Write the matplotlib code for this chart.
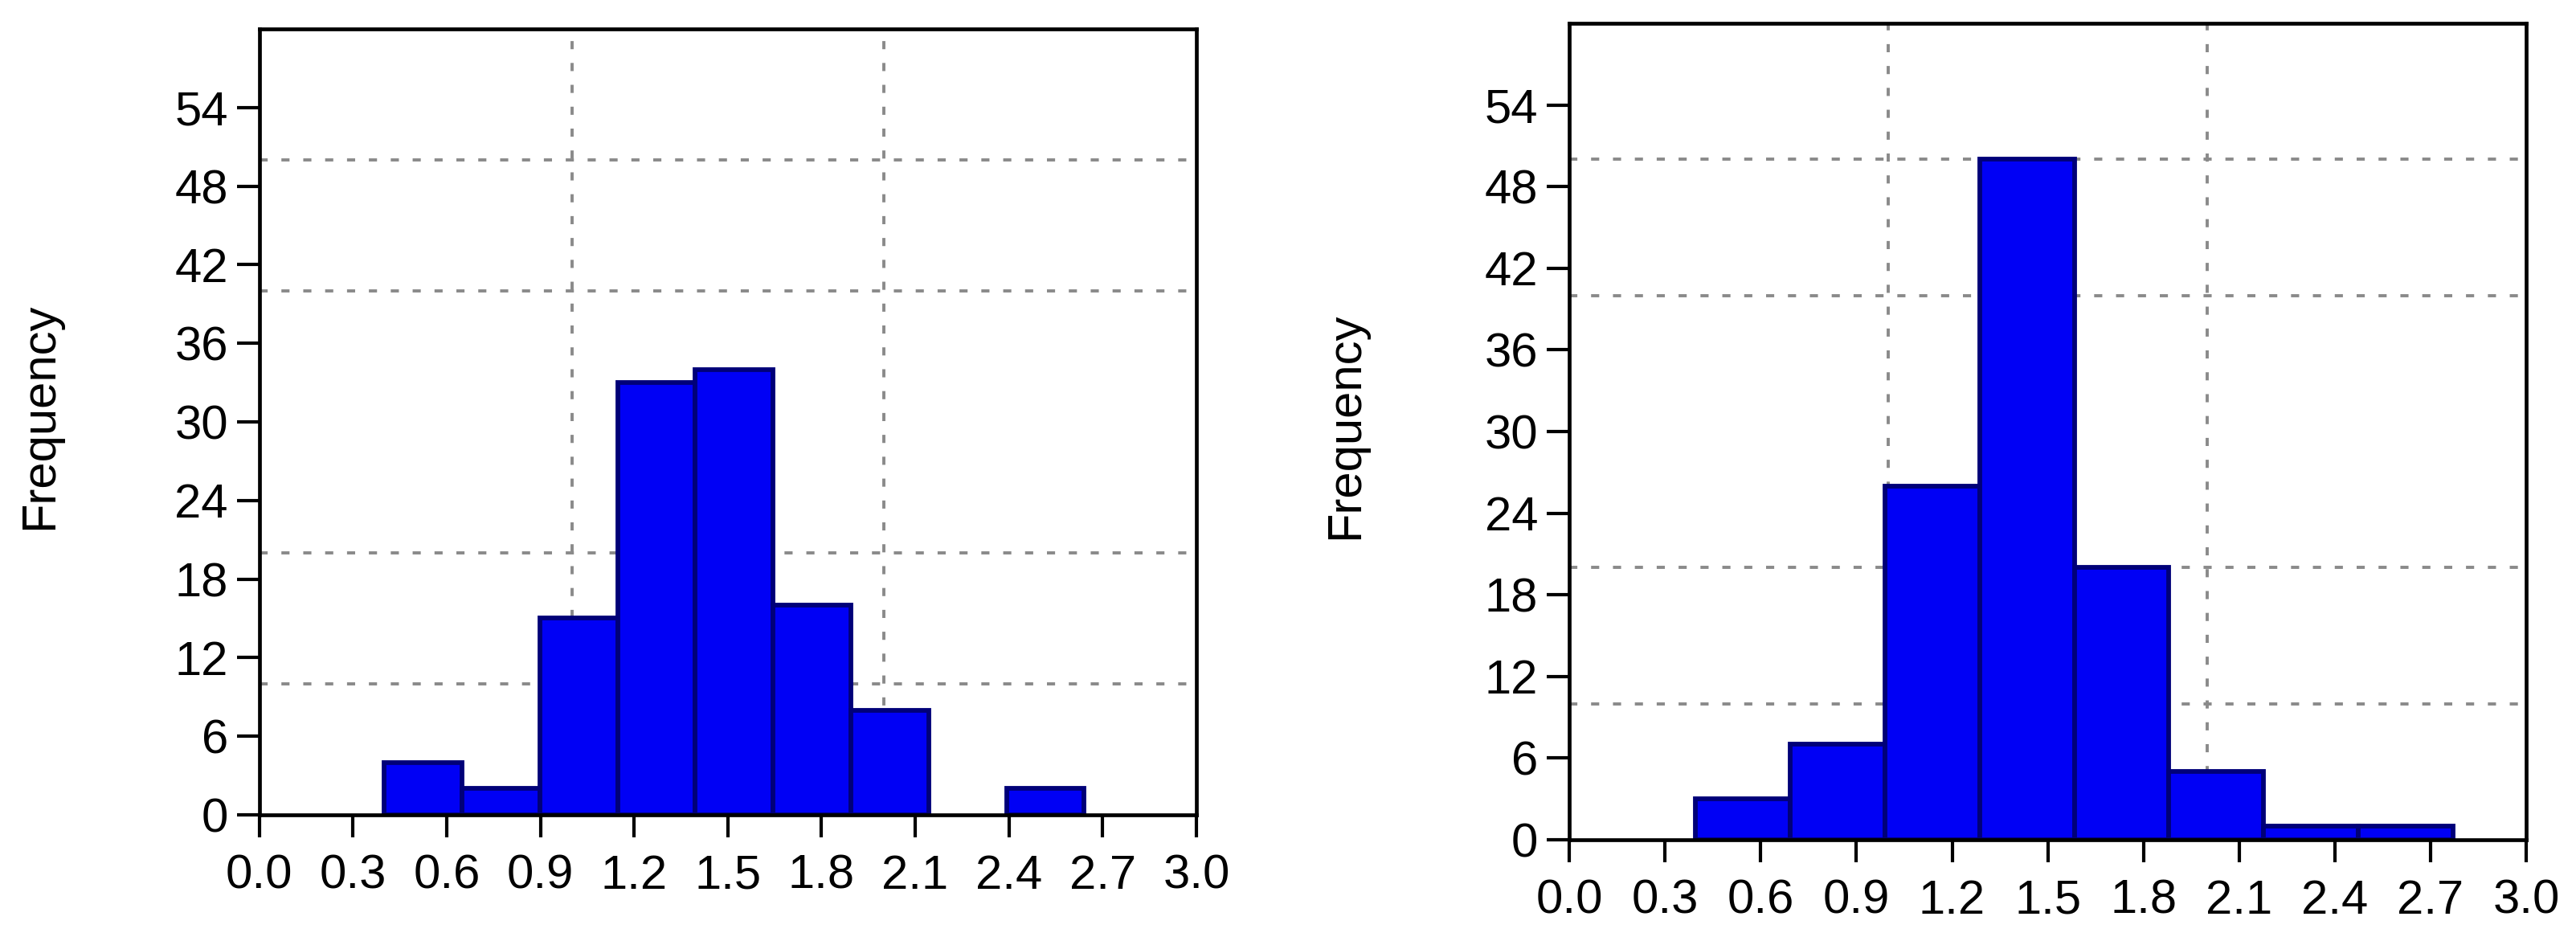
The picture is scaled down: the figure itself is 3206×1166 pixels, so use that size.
import numpy as np
import matplotlib
matplotlib.use("Agg")
import matplotlib.pyplot as plt

plt.rcParams['font.family'] = ['Liberation Sans', 'DejaVu Sans']

# histogram counts
left_counts = [4, 2, 15, 33, 34, 16, 8, 0, 2]
left_start = 0.4
left_width = 0.249

right_counts = [3, 7, 26, 50, 20, 5, 1, 1]
right_start = 0.395
right_width = 0.297

x_ticks = np.round(np.arange(0, 3.01, 0.3), 1)
x_labels = ["%.1f" % v for v in x_ticks]
y_ticks = list(range(0, 55, 6))
grid_y = [10, 20, 30, 40, 50]
grid_x = [1.0, 2.0]
ylabel = "Frequency"

fig = plt.figure(figsize=(32.06, 11.66), dpi=100)
ax1 = fig.add_axes([0.1007, 0.1304, 0.3637, 0.8387])
ax2 = fig.add_axes([0.6092, 0.1038, 0.3715, 0.8713])


def draw_hist(ax, counts, start, width):
    counts = np.array(counts)
    lefts = start + width * np.arange(len(counts))
    keep = counts > 0  # empty bins draw nothing
    ax.bar(lefts[keep], counts[keep], width=width, align='edge', color='#0000f5',
           edgecolor='#000078', linewidth=4.2, zorder=3)
    ax.set_xlim(0, 3.0)
    ax.set_ylim(0, 60)
    ax.set_xticks(x_ticks)
    ax.set_xticklabels(x_labels)
    ax.set_yticks(y_ticks)
    ax.set_xticks(grid_x, minor=True)
    ax.set_yticks(grid_y, minor=True)
    ax.grid(which='minor', color='#8a8a8a', linewidth=2.8,
            linestyle=(0, (2.6, 4.4)), zorder=1)
    ax.grid(which='major', visible=False)
    ax.tick_params(which='major', direction='out', length=20, width=3,
                   labelsize=43, pad=8, color='black')
    ax.tick_params(axis='x', which='major', pad=15)
    ax.tick_params(which='minor', length=0)
    ax.tick_params(top=False, right=False)
    for s in ax.spines.values():
        s.set_linewidth(3.4)
        s.set_color('black')
        s.set_zorder(4)
    ax.set_ylabel(ylabel, fontsize=43)
    ax.yaxis.set_label_coords(-0.211, 0.507)


draw_hist(ax1, left_counts, left_start, left_width)
draw_hist(ax2, right_counts, right_start, right_width)

fig.savefig("out.png", dpi=100, facecolor='white')
